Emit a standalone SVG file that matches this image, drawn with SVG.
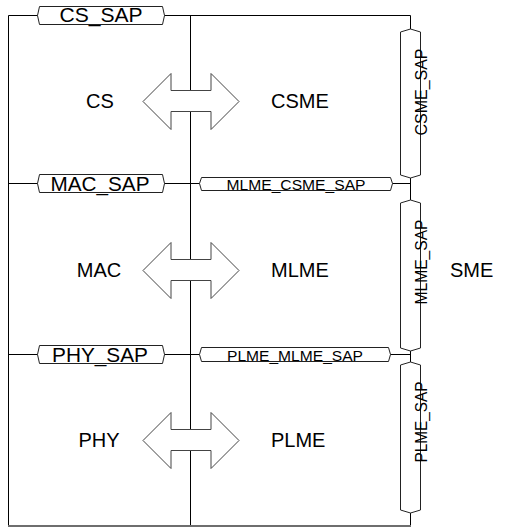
<svg xmlns="http://www.w3.org/2000/svg" width="528" height="530" viewBox="0 0 528 530">
<style>
.ln{stroke:#000;stroke-width:1;fill:none}
.box{stroke:#222;stroke-width:1;fill:#fff}
.arr{stroke:#444;stroke-width:1;fill:#fff}
.t{font-family:"Liberation Sans",Arial,sans-serif;fill:#000}
.big{font-size:20px}
.sap{font-size:21px;text-anchor:middle}
.sm{font-size:14px;text-anchor:middle}
.vt{font-size:16.5px;text-anchor:middle}
</style>
<rect width="528" height="530" fill="#fff"/>
<g id="connectors">
<line class="ln" x1="8.5" y1="15.5" x2="410.5" y2="15.5"/>
<line class="ln" x1="8.5" y1="15.5" x2="8.5" y2="526"/>
<line class="ln" x1="190.5" y1="15.5" x2="190.5" y2="526"/>
<line class="ln" x1="410.5" y1="15.5" x2="410.5" y2="526"/>
<line class="ln" x1="8.5" y1="183.5" x2="410.5" y2="183.5"/>
<line class="ln" x1="8.5" y1="354.5" x2="410.5" y2="354.5"/>
<line x1="8" y1="526" x2="411" y2="526" stroke="#6e6e6e" stroke-width="2"/>
</g>
<g id="cs_sap">
<path class="box" d="M39.5,6.5 L162.5,6.5 L164.5,15.5 L162.5,24.5 L39.5,24.5 L37.5,15.5 Z"/>
<text class="t sap" x="101" y="22" textLength="83" lengthAdjust="spacingAndGlyphs">CS_SAP</text>
</g>
<g id="mac_sap">
<path class="box" d="M39.5,174.5 L162.5,174.5 L164.5,183.5 L162.5,192.5 L39.5,192.5 L37.5,183.5 Z"/>
<text class="t sap" x="100" y="191" textLength="99" lengthAdjust="spacingAndGlyphs">MAC_SAP</text>
</g>
<g id="phy_sap">
<path class="box" d="M39.5,345.5 L162.5,345.5 L164.5,354.5 L162.5,363.5 L39.5,363.5 L37.5,354.5 Z"/>
<text class="t sap" x="100" y="362" textLength="96" lengthAdjust="spacingAndGlyphs">PHY_SAP</text>
</g>
<g id="mlme_csme_sap">
<path class="box" d="M201.5,177.5 L390.5,177.5 L392.5,183.5 L390.5,190.5 L201.5,190.5 L199.5,183.5 Z"/>
<text class="t sm" x="296" y="189.5" textLength="139" lengthAdjust="spacingAndGlyphs">MLME_CSME_SAP</text>
</g>
<g id="plme_mlme_sap">
<path class="box" d="M201.5,347.5 L388.5,347.5 L390.5,354.5 L388.5,361.5 L201.5,361.5 L199.5,354.5 Z"/>
<text class="t sm" x="295" y="360.5" textLength="136" lengthAdjust="spacingAndGlyphs">PLME_MLME_SAP</text>
</g>
<g id="csme_sap">
<path class="box" d="M400.5,32 L410.5,29 L420.5,32 L420.5,175 L410.5,178 L400.5,175 Z"/>
<text class="t vt" transform="translate(427,92) rotate(-90)" textLength="87" lengthAdjust="spacingAndGlyphs">CSME_SAP</text>
</g>
<g id="mlme_sap">
<path class="box" d="M400.5,203 L410.5,200 L420.5,203 L420.5,348 L410.5,351 L400.5,348 Z"/>
<text class="t vt" transform="translate(427,262) rotate(-90)" textLength="85" lengthAdjust="spacingAndGlyphs">MLME_SAP</text>
</g>
<g id="plme_sap">
<path class="box" d="M400.5,365 L410.5,362 L420.5,365 L420.5,510 L410.5,513 L400.5,510 Z"/>
<text class="t vt" transform="translate(427,422) rotate(-90)" textLength="81" lengthAdjust="spacingAndGlyphs">PLME_SAP</text>
</g>
<g id="arrow_cs">
<path class="arr" d="M143,101.5 L171,73.5 L171,90.5 L211,90.5 L211,73.5 L239,101.5 L211,129.5 L211,111.5 L171,111.5 L171,129.5 Z"/>
</g>
<g id="arrow_mac">
<path class="arr" d="M143,270.5 L171,242.5 L171,259.5 L211,259.5 L211,242.5 L239,270.5 L211,298.5 L211,280.5 L171,280.5 L171,298.5 Z"/>
</g>
<g id="arrow_phy">
<path class="arr" d="M143,440.5 L171,412.5 L171,429.5 L211,429.5 L211,412.5 L239,440.5 L211,468.5 L211,450.5 L171,450.5 L171,468.5 Z"/>
</g>
<g id="cs"><text class="t big" x="100" y="108" text-anchor="middle">CS</text></g>
<g id="csme"><text class="t big" x="271" y="108">CSME</text></g>
<g id="mac"><text class="t big" x="99" y="277" text-anchor="middle">MAC</text></g>
<g id="mlme"><text class="t big" x="271" y="277">MLME</text></g>
<g id="phy"><text class="t big" x="99" y="447" text-anchor="middle">PHY</text></g>
<g id="plme"><text class="t big" x="271" y="447">PLME</text></g>
<g id="sme"><text class="t big" x="450" y="277">SME</text></g>
</svg>
